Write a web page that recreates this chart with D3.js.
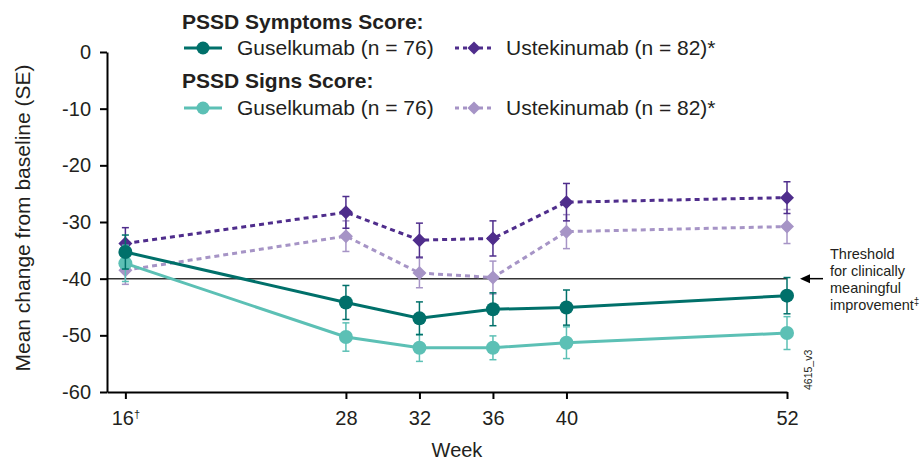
<!DOCTYPE html>
<html>
<head>
<meta charset="utf-8">
<script src="https://cdn.jsdelivr.net/npm/d3@7"></script>
<style>
  body { margin: 0; background: #fff; }
  svg { display: block; font-family: "Liberation Sans", Arial, Helvetica, sans-serif; }
</style>
</head>
<body>
<svg id="chart" width="922" height="460"></svg>
<script>
// Weeks of assessment
const weeks = [16, 28, 32, 36, 40, 52];
const weekLabels = ["16", "28", "32", "36", "40", "52"];
const yTicks = [0, -10, -20, -30, -40, -50, -60];

// PSSD Symptoms Score – mean change from baseline and SE
const gusSymptoms = [-35.3, -44.2, -47.0, -45.4, -45.1, -43.0];
const gusSymptomsSE = [3.0, 3.0, 2.9, 2.9, 3.1, 3.2];
const ustSymptoms = [-33.8, -28.3, -33.2, -32.9, -26.5, -25.7];
const ustSymptomsSE = [2.8, 2.8, 3.0, 3.1, 3.3, 2.8];

// PSSD Signs Score – mean change from baseline and SE
const gusSigns = [-37.3, -50.3, -52.2, -52.2, -51.3, -49.6];
const gusSignsSE = [3.2, 2.5, 2.4, 2.1, 2.8, 2.9];
const ustSigns = [-38.5, -32.5, -39.0, -39.8, -31.7, -30.8];
const ustSignsSE = [2.5, 2.7, 2.6, 2.9, 3.0, 3.0];

const threshold = -40;

const colors = {
  gusSym: "#00706a",
  ustSym: "#4f2d8c",
  gusSig: "#5cc0b5",
  ustSig: "#a694c6"
};
const textColor = "#231f20";

const svg = d3.select("#chart");

const x = d3.scaleLinear().domain([15, 52]).range([107, 787]);
const y = d3.scaleLinear().domain([-60, 0]).range([392, 52]);

// Threshold line and pointer
svg.append("line")
  .attr("x1", x(15)).attr("x2", x(52))
  .attr("y1", y(threshold)).attr("y2", y(threshold))
  .attr("stroke", "#333").attr("stroke-width", 1.5);

const ty = y(threshold);
svg.append("line")
  .attr("x1", 808).attr("x2", 823)
  .attr("y1", ty).attr("y2", ty)
  .attr("stroke", "#000").attr("stroke-width", 1.5);
svg.append("path")
  .attr("d", `M800,${ty} L810,${ty - 4.5} L810,${ty + 4.5} Z`)
  .attr("fill", "#000");

const thrText = svg.append("text")
  .attr("x", 830).attr("y", 259)
  .attr("font-size", 14.5).attr("fill", textColor);
["Threshold", "for clinically", "meaningful"].forEach((t, i) => {
  thrText.append("tspan").attr("x", 830).attr("dy", i === 0 ? 0 : 17).text(t);
});
thrText.append("tspan").attr("x", 830).attr("dy", 17).text("improvement");
thrText.append("tspan").attr("font-size", 10).attr("dy", -5).text("‡");

// Axes
const yAxis = d3.axisLeft(y).tickValues(yTicks).tickSize(7).tickSizeOuter(0).tickPadding(9)
  .tickFormat(d => d === 0 ? "0" : "-" + Math.abs(d));
const gy = svg.append("g").attr("transform", `translate(${x(15)},0)`).call(yAxis);

const xAxis = d3.axisBottom(x).tickValues(weeks).tickSize(7).tickSizeOuter(0).tickPadding(12)
  .tickFormat((d, i) => weekLabels[i]);
const gx = svg.append("g").attr("transform", `translate(0,${y(-60)})`).call(xAxis);

[gx, gy].forEach(g => {
  g.select(".domain").attr("stroke", "#000").attr("stroke-width", 2);
  g.selectAll(".tick line").attr("stroke", "#000").attr("stroke-width", 2);
  g.selectAll(".tick text").attr("font-size", 20).attr("fill", textColor)
    .attr("font-family", "Liberation Sans, Arial, sans-serif");
});
gx.selectAll(".tick text").filter(d => d === 16)
  .append("tspan").attr("font-size", 11).attr("dy", "-0.7em").text("†");

// Axis titles
svg.append("text")
  .attr("transform", `translate(30,218) rotate(-90)`)
  .attr("text-anchor", "middle").attr("font-size", 21).attr("fill", textColor)
  .text("Mean change from baseline (SE)");

svg.append("text")
  .attr("x", 457).attr("y", 457)
  .attr("text-anchor", "middle").attr("font-size", 20).attr("fill", textColor)
  .text("Week");

svg.append("text")
  .attr("transform", `translate(812,390) rotate(-90)`)
  .attr("font-size", 10.5).attr("fill", textColor)
  .text("4615_v3");

// Series, drawn so the Guselkumab markers sit on top
const series = [
  { values: ustSigns, se: ustSignsSE, color: colors.ustSig, dashed: true, shape: "diamond" },
  { values: ustSymptoms, se: ustSymptomsSE, color: colors.ustSym, dashed: true, shape: "diamond" },
  { values: gusSigns, se: gusSignsSE, color: colors.gusSig, dashed: false, shape: "circle" },
  { values: gusSymptoms, se: gusSymptomsSE, color: colors.gusSym, dashed: false, shape: "circle" }
];

const line = d3.line().x(d => x(d.w)).y(d => y(d.v));
const diamond = d3.symbol().type(d3.symbolDiamond2).size(125);

series.forEach(s => {
  const pts = weeks.map((w, i) => ({ w, v: s.values[i], se: s.se[i] }));
  const g = svg.append("g");
  g.append("path").datum(pts)
    .attr("d", line).attr("fill", "none")
    .attr("stroke", s.color).attr("stroke-width", 3)
    .attr("stroke-dasharray", s.dashed ? "5,4" : null);

  const eb = g.selectAll(".eb").data(pts).enter().append("g");
  eb.append("line")
    .attr("x1", d => x(d.w)).attr("x2", d => x(d.w))
    .attr("y1", d => y(d.v + d.se)).attr("y2", d => y(d.v - d.se))
    .attr("stroke", s.color).attr("stroke-width", 1.5);
  [1, -1].forEach(sign => {
    eb.append("line")
      .attr("x1", d => x(d.w) - 3.5).attr("x2", d => x(d.w) + 3.5)
      .attr("y1", d => y(d.v + sign * d.se)).attr("y2", d => y(d.v + sign * d.se))
      .attr("stroke", s.color).attr("stroke-width", 1.5);
  });

  if (s.shape === "circle") {
    g.selectAll(".pt").data(pts).enter().append("circle")
      .attr("cx", d => x(d.w)).attr("cy", d => y(d.v)).attr("r", 7)
      .attr("fill", s.color);
  } else {
    g.selectAll(".pt").data(pts).enter().append("path")
      .attr("d", diamond)
      .attr("transform", d => `translate(${x(d.w)},${y(d.v)})`)
      .attr("fill", s.color);
  }
});

// Legend
const legend = svg.append("g");
const legendGroups = [
  { title: "PSSD Symptoms Score:", ty: 29, ry: 48, gus: colors.gusSym, ust: colors.ustSym },
  { title: "PSSD Signs Score:", ty: 88, ry: 108, gus: colors.gusSig, ust: colors.ustSig }
];
legendGroups.forEach(lg => {
  legend.append("text").attr("x", 182).attr("y", lg.ty)
    .attr("font-size", 21).attr("font-weight", "bold").attr("fill", textColor)
    .text(lg.title);
  legend.append("line").attr("x1", 184).attr("x2", 222).attr("y1", lg.ry).attr("y2", lg.ry)
    .attr("stroke", lg.gus).attr("stroke-width", 3);
  legend.append("circle").attr("cx", 203).attr("cy", lg.ry).attr("r", 6.5).attr("fill", lg.gus);
  legend.append("text").attr("x", 237).attr("y", lg.ry + 7)
    .attr("font-size", 21).attr("fill", textColor).text("Guselkumab (n = 76)");
  legend.append("line").attr("x1", 455).attr("x2", 493).attr("y1", lg.ry).attr("y2", lg.ry)
    .attr("stroke", lg.ust).attr("stroke-width", 3).attr("stroke-dasharray", "4,4");
  legend.append("path").attr("d", diamond.size(110)())
    .attr("transform", `translate(474,${lg.ry})`).attr("fill", lg.ust);
  legend.append("text").attr("x", 506).attr("y", lg.ry + 7)
    .attr("font-size", 21).attr("fill", textColor).text("Ustekinumab (n = 82)*");
});
</script>
</body>
</html>
